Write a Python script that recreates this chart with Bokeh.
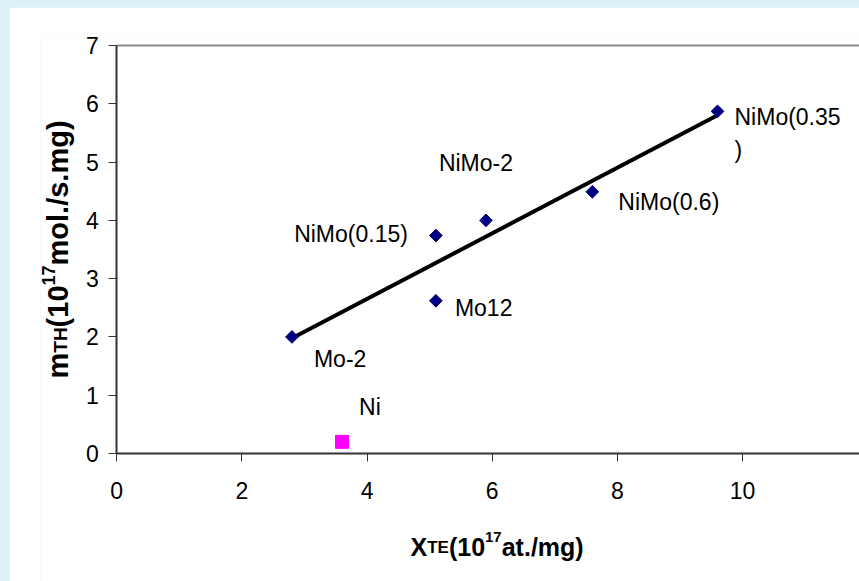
import numpy as np
from bokeh.plotting import figure
from bokeh.layouts import column
from bokeh.models import ColumnDataSource, FixedTicker, Label, LinearAxis
from bokeh.core.properties import value
from bokeh.embed import file_html
from bokeh.resources import INLINE

# ---- data ----
samples = ["Mo-2", "NiMo(0.15)", "NiMo-2", "Mo12", "NiMo(0.6)", "NiMo(0.35\n)"]
x_te = [2.8, 5.1, 5.9, 5.1, 7.6, 9.6]
m_th = [2.0, 3.74, 4.0, 2.62, 4.49, 5.87]
ni_name = ["Ni"]
ni_x = [3.6]
ni_y = [0.2]
x_ticks = [0, 2, 4, 6, 8, 10, 12]
y_ticks = [0, 1, 2, 3, 4, 5, 6, 7]
x_lim = (0, 12)
y_lim = (0, 7)

FONT = "Liberation Sans"
W, H = 850, 574

# frame spans almost the whole canvas so that the axis titles can live inside it;
# the axes are pinned at x=0 / y=0 with fixed_location and limited with bounds.
p = figure(width=W, height=H, output_backend="svg", toolbar_location=None,
           x_axis_location=None, y_axis_location=None,
           x_range=(-1.218, 11.869), y_range=(-2.196, 7.206),
           min_border_left=31, min_border_right=0, min_border_top=26, min_border_bottom=0)
p.outline_line_color = None
p.grid.visible = False
p.background_fill_color = "white"
p.border_fill_color = "white"

xax = LinearAxis(fixed_location=y_lim[0], bounds=x_lim, ticker=FixedTicker(ticks=x_ticks))
yax = LinearAxis(fixed_location=x_lim[0], bounds=y_lim, ticker=FixedTicker(ticks=y_ticks))
for ax in (xax, yax):
    ax.axis_line_color = "#333333"
    ax.axis_line_width = 2
    ax.major_tick_line_color = "#333333"
    ax.major_tick_line_width = 1
    ax.minor_tick_line_color = None
    ax.major_label_text_font = FONT
    ax.major_label_text_font_size = "23px"
    ax.major_label_text_color = "black"
# x axis lives in the top panel but draws at y=0: ticks point down, labels below
xax.major_tick_out = 0
xax.major_tick_in = 8
xax.major_label_standoff = -45
yax.major_tick_out = 8
yax.major_tick_in = 0
yax.major_label_standoff = 10
p.add_layout(xax, "above")
p.add_layout(yax, "left")

# top edge of the plot area (grey line at y = 7)
top_edge = LinearAxis(fixed_location=y_lim[1], bounds=x_lim, ticker=FixedTicker(ticks=[]))
top_edge.axis_line_color = "#8c8c8c"
top_edge.axis_line_width = 2
top_edge.major_tick_out = 0
top_edge.major_tick_in = 0
top_edge.minor_tick_line_color = None
top_edge.major_label_standoff = 0
p.add_layout(top_edge, "above")

# trend line (least squares fit of the NiMo/Mo series)
slope, icpt = np.polyfit(x_te, m_th, 1)
xl = [min(x_te), max(x_te)]
p.line(xl, [slope * v + icpt for v in xl], line_color="black", line_width=4)

# markers
p.scatter(x_te, m_th, marker="square", angle=np.pi / 4, size=9,
          fill_color="#000080", line_color="#000080")
p.scatter(ni_x, ni_y, marker="square", size=13, fill_color="#ff00ff", line_color="#ff00ff")

# data labels
lab_dx = [22, -28, -10, 19, 26, 17]
lab_dy = [22, -2, -57, 7, 10, -7]
lab_align = ["left", "right", "center", "left", "left", "left"]
lab_base = ["middle", "middle", "middle", "middle", "middle", "top"]
src = ColumnDataSource(dict(x=x_te, y=m_th, t=samples, dx=lab_dx, dy=lab_dy,
                            al=lab_align, bl=lab_base))
p.text(x="x", y="y", text="t", x_offset="dx", y_offset="dy", text_align="al",
       text_baseline="bl", source=src, text_font=value(FONT), text_font_size="23px",
       text_color="black", text_line_height=1.25)
p.text(x=ni_x, y=ni_y, text=ni_name, x_offset=17, y_offset=-35, text_align="left",
       text_baseline="middle", text_font=value(FONT), text_font_size="23px", text_color="black")

# ---- composite axis titles (screen px from the frame's bottom-left) ----
BW = {"X": .667, "T": .611, "E": .667, "H": .722, "(": .333, ")": .333, "a": .556,
      "t": .333, ".": .278, "/": .278, "m": .889, "g": .611, "o": .611, "l": .278,
      "s": .556}
def width(s, size):
    return sum(BW.get(c, .556) for c in s) * size

def composite(pieces, start, base, vertical):
    pos = start
    for txt, size, shift in pieces:
        if vertical:
            lab = Label(x=base + shift, y=pos, x_units="screen", y_units="screen",
                        text=txt, angle=np.pi / 2)
        else:
            lab = Label(x=pos, y=base + shift, x_units="screen", y_units="screen", text=txt)
        lab.text_font = FONT
        lab.text_font_size = f"{size}px"
        lab.text_font_style = "bold"
        lab.text_align = "left"
        lab.text_baseline = "alphabetic"
        lab.text_color = "black"
        p.add_layout(lab)
        pos += width(txt, size)

composite([("X", 25, 0), ("TE", 17, -1), ("(10", 25, 0), ("17", 15, 10), ("at./mg)", 25, 0)],
          start=370, base=35, vertical=False)
composite([("m", 29, 0), ("TH", 19, 3), ("(10", 29, 0), ("17", 18, -9), ("mol./s.mg)", 29, 0)],
          start=203, base=17, vertical=True)

root = column(p, styles={"background-color": "#dbf3f8", "padding-left": "9px",
                         "padding-top": "7px"})
html = file_html(root, INLINE)
open("out.html", "w").write(html)
